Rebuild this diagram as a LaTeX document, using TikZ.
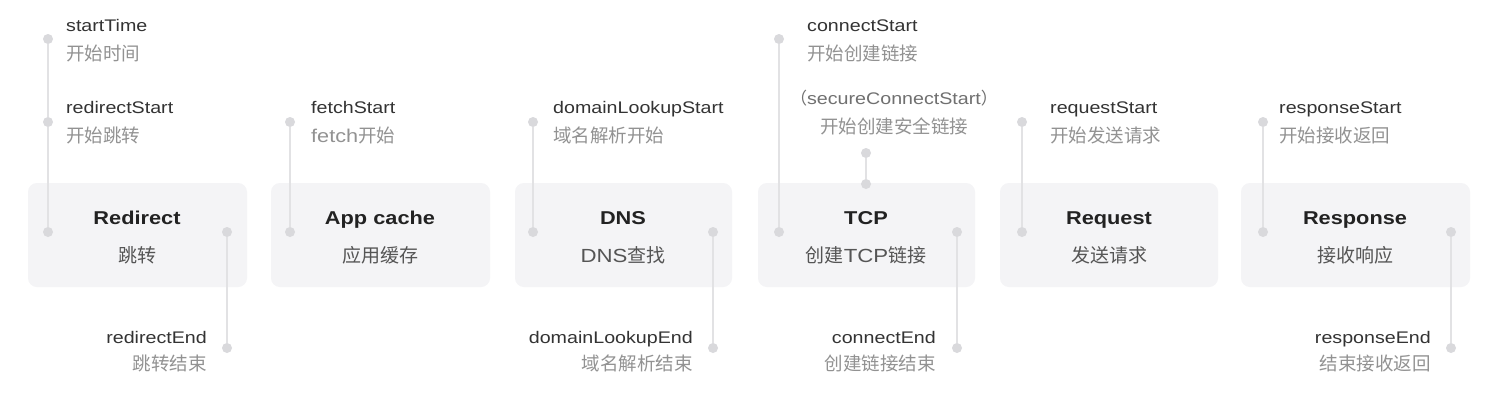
\documentclass[tikz,border=0pt]{standalone}
\usepackage{fontspec}
\setmainfont{Liberation Sans}[FakeStretch=1.17]
\newfontfamily\cjk{Noto Sans CJK SC}
\definecolor{boxfill}{HTML}{F4F4F6}
\definecolor{linec}{HTML}{E2E2E4}
\definecolor{dotc}{HTML}{D9D9DC}
\definecolor{labc}{HTML}{333333}
\definecolor{subc}{HTML}{929292}
\definecolor{titlec}{HTML}{222222}
\definecolor{boxsubc}{HTML}{555555}
\definecolor{securec}{HTML}{707070}
\tikzset{
  stagebox/.style={fill=boxfill, rounded corners=9pt, minimum height=104pt, inner sep=0pt},
  dotnode/.style={circle, fill=dotc, inner sep=0pt, minimum size=10pt},
  conn/.style={draw=linec, line width=2pt},
  lab/.style={text=labc, inner sep=0pt, font=\fontsize{16.8}{20}\selectfont},
  labcn/.style={text=subc, inner sep=0pt, font=\cjk\fontsize{18.5}{22}\selectfont},
  seclab/.style={text=securec, inner sep=0pt, font=\fontsize{16.8}{20}\selectfont},
  title/.style={text=titlec, inner sep=0pt, anchor=base, font=\bfseries\fontsize{18.6}{22}\selectfont},
  boxsub/.style={text=boxsubc, inner sep=0pt, anchor=base, font=\cjk\fontsize{19}{22}\selectfont},
}
\begin{document}
\begin{tikzpicture}[x=1pt,y=-1pt]
\useasboundingbox[fill=white] (0,0) rectangle (1492,410);
% boxes
\node[stagebox, minimum width=219pt] (b1) at (137.5,235) {};
\node[stagebox, minimum width=219pt] (b2) at (380.5,235) {};
\node[stagebox, minimum width=217pt] (b3) at (623.5,235) {};
\node[stagebox, minimum width=217pt] (b4) at (866.5,235) {};
\node[stagebox, minimum width=218pt] (b5) at (1109,235) {};
\node[stagebox, minimum width=229pt] (b6) at (1355.5,235) {};
% box texts
\node[title] (t1) at (137,224) {Redirect};
\node[boxsub] (s1) at (137,262) {跳转};
\node[title] (t2) at (380,224) {App cache};
\node[boxsub] (s2) at (380,262) {应用缓存};
\node[title] (t3) at (623,224) {DNS};
\node[boxsub] (s3) at (623,262) {{\rmfamily DNS}查找};
\node[title] (t4) at (866,224) {TCP};
\node[boxsub] (s4) at (866,262) {创建{\rmfamily TCP}链接};
\node[title] (t5) at (1109,224) {Request};
\node[boxsub] (s5) at (1109,262) {发送请求};
\node[title] (t6) at (1355,224) {Response};
\node[boxsub] (s6) at (1355,262) {接收响应};
% dots
\node[dotnode] (st) at (48,39) {};
\node[dotnode] (rs) at (48,122) {};
\node[dotnode] (rsb) at (48,232) {};
\node[dotnode] (ret) at (227,232) {};
\node[dotnode] (re) at (227,348) {};
\node[dotnode] (fs) at (290,122) {};
\node[dotnode] (fsb) at (290,232) {};
\node[dotnode] (ds) at (533,122) {};
\node[dotnode] (dsb) at (533,232) {};
\node[dotnode] (det) at (713,232) {};
\node[dotnode] (de) at (713,348) {};
\node[dotnode] (cs) at (779,39) {};
\node[dotnode] (csb) at (779,232) {};
\node[dotnode] (scs) at (866,153) {};
\node[dotnode] (scsb) at (866,184) {};
\node[dotnode] (cet) at (957,232) {};
\node[dotnode] (ce) at (957,348) {};
\node[dotnode] (rq) at (1022,122) {};
\node[dotnode] (rqb) at (1022,232) {};
\node[dotnode] (rp) at (1263,122) {};
\node[dotnode] (rpb) at (1263,232) {};
\node[dotnode] (rpet) at (1451,232) {};
\node[dotnode] (rpe) at (1451,348) {};
% connectors
\draw[conn] (st) -- (rs);
\draw[conn] (rs) -- (rsb);
\draw[conn] (ret) -- (re);
\draw[conn] (fs) -- (fsb);
\draw[conn] (ds) -- (dsb);
\draw[conn] (det) -- (de);
\draw[conn] (cs) -- (csb);
\draw[conn] (scs) -- (scsb);
\draw[conn] (cet) -- (ce);
\draw[conn] (rq) -- (rqb);
\draw[conn] (rp) -- (rpb);
\draw[conn] (rpet) -- (rpe);
% labels
\node[lab, anchor=base west] (l1) at (66,31) {startTime};
\node[labcn, anchor=base west] (l1c) at (66,60) {开始时间};
\node[lab, anchor=base west] (l2) at (66,113) {redirectStart};
\node[labcn, anchor=base west] (l2c) at (66,142) {开始跳转};
\node[lab, anchor=base east] (l3) at (207,343) {redirectEnd};
\node[labcn, anchor=base east] (l3c) at (207,370) {跳转结束};
\node[lab, anchor=base west] (l4) at (311,113) {fetchStart};
\node[labcn, anchor=base west] (l4c) at (311,142) {{\rmfamily fetch}开始};
\node[lab, anchor=base west] (l5) at (553,113) {domainLookupStart};
\node[labcn, anchor=base west] (l5c) at (553,142) {域名解析开始};
\node[lab, anchor=base east] (l6) at (693,343) {domainLookupEnd};
\node[labcn, anchor=base east] (l6c) at (693,370) {域名解析结束};
\node[lab, anchor=base west] (l7) at (807,31) {connectStart};
\node[labcn, anchor=base west] (l7c) at (807,60) {开始创建链接};
\node[seclab, anchor=base] (l8) at (894,104) {{\cjk （}secureConnectStart{\cjk ）}};
\node[labcn, anchor=base] (l8c) at (894,133) {开始创建安全链接};
\node[lab, anchor=base east] (l9) at (936,343) {connectEnd};
\node[labcn, anchor=base east] (l9c) at (936,370) {创建链接结束};
\node[lab, anchor=base west] (l10) at (1050,113) {requestStart};
\node[labcn, anchor=base west] (l10c) at (1050,142) {开始发送请求};
\node[lab, anchor=base west] (l11) at (1279,113) {responseStart};
\node[labcn, anchor=base west] (l11c) at (1279,142) {开始接收返回};
\node[lab, anchor=base east] (l12) at (1431,343) {responseEnd};
\node[labcn, anchor=base east] (l12c) at (1431,370) {结束接收返回};
\end{tikzpicture}
\end{document}
